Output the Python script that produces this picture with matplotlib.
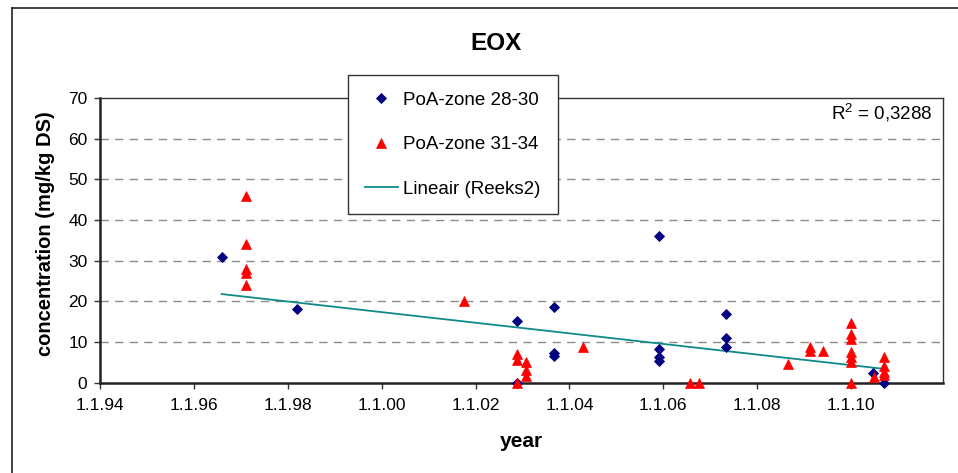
import matplotlib
matplotlib.use("Agg")
import matplotlib.pyplot as plt
from matplotlib.lines import Line2D

plt.rcParams['font.family'] = ['Liberation Sans', 'DejaVu Sans']
plt.rcParams['mathtext.fontset'] = 'custom'
plt.rcParams['mathtext.rm'] = 'Liberation Sans'
plt.rcParams['mathtext.it'] = 'Liberation Sans'

# PoA-zone 28-30 (blauwe ruiten), jaar als decimaal jaartal
blauw_jaar = [1996.59, 1998.19, 2002.88, 2002.88, 2003.68, 2003.68, 2003.68,
              2005.90, 2005.90, 2005.90, 2005.90, 2007.33, 2007.33, 2007.33,
              2010.47, 2010.70]
blauw_conc = [31, 18, 15.2, 0, 18.6, 7.2, 6.5,
              36, 8.4, 6.2, 5.4, 16.8, 10.9, 8.9,
              2.5, 0]

# PoA-zone 31-34 (rode driehoeken)
rood_jaar = [1997.10, 1997.10, 1997.10, 1997.10, 1997.10,
             2001.76,
             2002.88, 2002.88, 2002.88,
             2003.08, 2003.08, 2003.08,
             2004.28, 2006.56, 2006.76, 2008.66,
             2009.12, 2009.12, 2009.41,
             2010.01, 2010.01, 2010.01, 2010.01, 2010.01, 2010.01, 2010.01,
             2010.49,
             2010.70, 2010.70, 2010.70, 2010.70]
rood_conc = [46, 34, 28, 27, 24,
             20,
             7.0, 5.5, 0,
             5.0, 3.2, 1.6,
             8.8, 0, 0, 4.7,
             8.8, 7.8, 7.8,
             14.7, 12.0, 10.8, 7.5, 6.3, 5.2, 0,
             1.5,
             6.2, 4.0, 2.7, 1.8]

trend_jaar = [1996.59, 2010.70]
trend_conc = [21.8, 3.4]

x_ticks = [1994, 1996, 1998, 2000, 2002, 2004, 2006, 2008, 2010]
x_labels = ["1.1.94", "1.1.96", "1.1.98", "1.1.00", "1.1.02",
            "1.1.04", "1.1.06", "1.1.08", "1.1.10"]
y_ticks = [0, 10, 20, 30, 40, 50, 60, 70]

W, H = 958, 473
fig = plt.figure(figsize=(W / 100, H / 100), dpi=100)

# kader rond de hele grafiek (rechts en onder buiten beeld)
fig.add_artist(Line2D([12 / W, 12 / W], [0, 1 - 8 / H], color='#222222', lw=1.2,
                      transform=fig.transFigure))
fig.add_artist(Line2D([12 / W, 1], [1 - 8 / H, 1 - 8 / H], color='#222222', lw=1.2,
                      transform=fig.transFigure))

left, right, top, bottom = 100, 943, 98, 382.7
ax = fig.add_axes([left / W, 1 - bottom / H, (right - left) / W, (bottom - top) / H])

ax.plot(trend_jaar, trend_conc, color='#0f8a8a', lw=1.3, zorder=2,
        label='Lineair (Reeks2)')
ax.plot(blauw_jaar, blauw_conc, linestyle='none', marker='D', ms=5.3, mew=0.6,
        color='#000080', clip_on=False, zorder=3, label='PoA-zone 28-30')
ax.plot(rood_jaar, rood_conc, linestyle='none', marker='^', ms=7, mew=0.5,
        color='#ff0000', clip_on=False, zorder=4, label='PoA-zone 31-34')

ax.set_xlim(1994, 2011.96)
ax.set_ylim(0, 70)
ax.set_xticks(x_ticks)
ax.set_xticklabels(x_labels)
ax.set_yticks(y_ticks)
ax.tick_params(axis='both', labelsize=12.5, length=4, width=1, color='#333333',
               direction='out')
ax.tick_params(axis='x', pad=7)
ax.tick_params(axis='y', pad=5)

for y in y_ticks[1:-1]:
    ax.axhline(y, color='#8c8c8c', lw=1.0, linestyle=(0, (6, 4.5)), zorder=1)

for s in ['left', 'bottom']:
    ax.spines[s].set_linewidth(1.8)
    ax.spines[s].set_color('#222222')
for s in ['top', 'right']:
    ax.spines[s].set_linewidth(1.0)
    ax.spines[s].set_color('#333333')

ax.set_xlabel('year', fontsize=15, fontweight='bold', va='center')
ax.xaxis.set_label_coords(0.5, (bottom - 441) / (bottom - top))
ax.set_ylabel('concentration (mg/kg DS)', fontsize=14.5, fontweight='bold', va='center')
ax.yaxis.set_label_coords((45.7 - left) / (right - left), 0.525)

fig.text(496 / W, 1 - 43 / H, 'EOX', fontsize=17.5, fontweight='bold',
         ha='center', va='center')
fig.text(933 / W, 1 - 113 / H, r'$\mathrm{R}^{2}$ = 0,3288', fontsize=13.5,
         ha='right', va='center')

handles, labels = ax.get_legend_handles_labels()
order = [1, 2, 0]
leg = ax.legend([handles[i] for i in order], [labels[i] for i in order],
                loc='upper left', bbox_to_anchor=(348 / W, 1 - 75 / H),
                bbox_transform=fig.transFigure, borderaxespad=0,
                fontsize=13.5, frameon=True, fancybox=False, framealpha=1,
                edgecolor='#333333', numpoints=1, labelspacing=1.45,
                borderpad=0.9, handlelength=1.75, handletextpad=0.3)
leg.get_frame().set_linewidth(1.0)
leg.set_zorder(10)

fig.savefig('out.png', dpi=100)
